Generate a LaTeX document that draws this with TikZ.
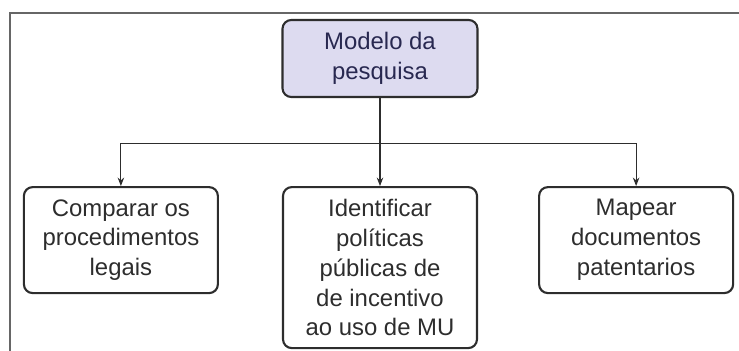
\documentclass[tikz,border=0pt]{standalone}
\usepackage{fontspec}
\setmainfont{Liberation Sans}
\usetikzlibrary{arrows.meta,positioning}
\definecolor{lilac}{RGB}{221,219,240}
\definecolor{inkgray}{RGB}{45,45,45}
\definecolor{inknavy}{RGB}{40,40,80}

\begin{document}
\begin{tikzpicture}[>=Stealth, node distance=1.76cm and 1.26cm]
  % Styles
  \tikzset{
    box/.style={rectangle, draw=inkgray, line width=1.2pt, rounded corners=5pt, align=center,
      text=inkgray, minimum width=3.88cm, minimum height=2.12cm, inner sep=2pt,
      font=\fontsize{13.6}{17}\selectfont},
    arrow/.style={-{Stealth[length=1.7mm, width=1.3mm]}, line width=0.6pt, inkgray},
    link/.style={line width=0.6pt, inkgray},
    frame/.style={draw=black!60, line width=1pt}
  }

  % ----- Canvas and frame -----
  \useasboundingbox (0,0) rectangle (14.78,-7.02);
  \draw[frame] (0.2,-7.02) -- (0.2,-0.26) -- (14.78,-0.26);

  % ----- Root -----
  \node[box, fill=lilac, text=inknavy, minimum width=3.9cm, minimum height=1.54cm] (modelo) at (7.6,-1.17) {Modelo da\\pesquisa};

  % ----- Three branches -----
  \node[box, minimum height=3.22cm, below=1.76cm of modelo] (politicas) {Identificar\\políticas\\públicas de\\de incentivo\\ao uso de MU};
  \node[box, left=1.26cm of politicas.north west, anchor=north east] (comparar) {Comparar os\\procedimentos\\legais};
  \node[box, right=1.2cm of politicas.north east, anchor=north west] (mapear) {Mapear\\documentos\\patentarios};

  % ----- Connectors -----
  \coordinate[below=0.9cm of modelo] (split);
  \draw[link] (modelo.south) -- (split);
  \draw[link] (comparar.north |- split) -- (mapear.north |- split);
  \draw[arrow] (split) -- (politicas.north);
  \draw[arrow] (comparar.north |- split) -- (comparar.north);
  \draw[arrow] (mapear.north |- split) -- (mapear.north);

\end{tikzpicture}
\end{document}
